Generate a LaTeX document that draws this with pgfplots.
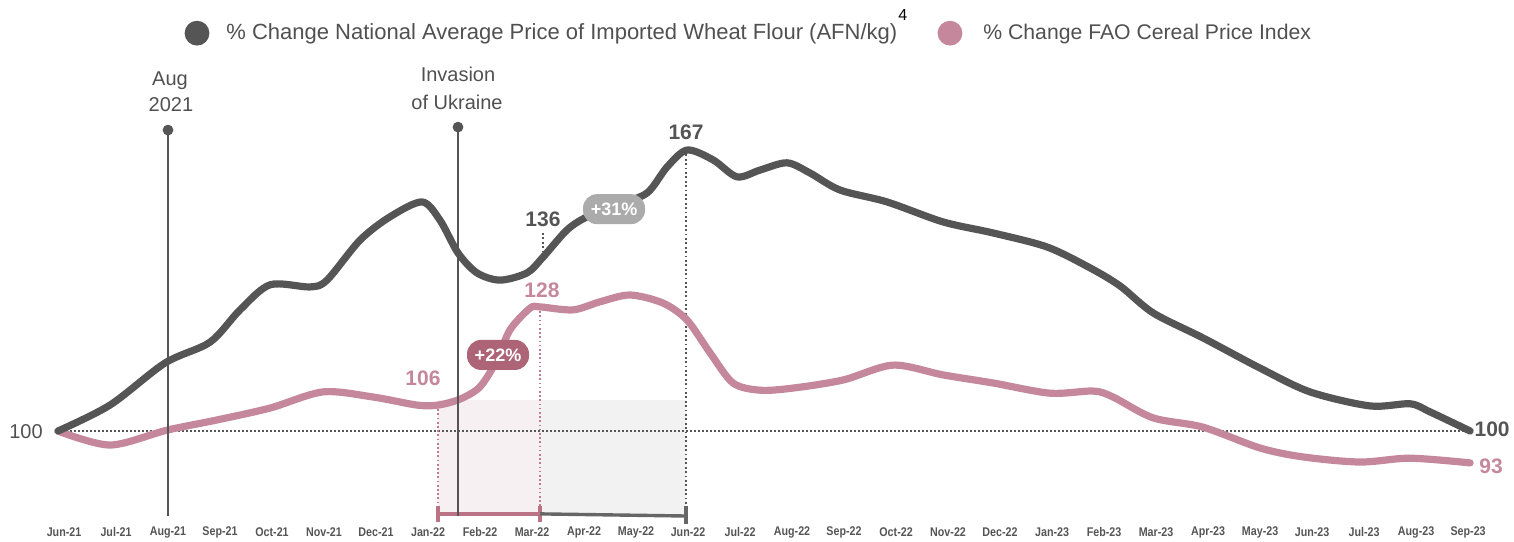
\documentclass[border=0pt]{standalone}
\usepackage{fontspec}
\setmainfont{Liberation Sans}
\newfontfamily\condfont[FakeStretch=0.85]{Liberation Sans}
\usepackage{pgfplots}
\pgfplotsset{compat=1.18}
\definecolor{darkg}{HTML}{555555}
\definecolor{txtg}{HTML}{505050}
\definecolor{pinkline}{HTML}{C5879C}
\definecolor{pinkbadge}{HTML}{AE6477}
\definecolor{graybadge}{HTML}{ABABAB}
\definecolor{pinkshade}{HTML}{F7F0F2}
\definecolor{grayshade}{HTML}{F2F2F2}
\definecolor{pinkdot}{HTML}{C27A8F}
\definecolor{pinkbracket}{HTML}{BB7285}
\definecolor{graybracket}{HTML}{666666}
\begin{document}
\begin{tikzpicture}
\useasboundingbox (0,0) rectangle (757pt,270.5pt);
\begin{axis}[
  at={(0,0)}, anchor=south west,
  width=757pt, height=270.5pt, scale only axis,
  xmin=-1.109, xmax=27.839, ymin=74.12, ymax=201.41,
  axis line style={draw=none},
  major tick length=0pt,
  ytick=\empty,
  xtick={0.115,1.109,2.103,3.098,4.092,5.086,6.081,7.075,8.069,9.064,10.058,11.052,12.046,13.041,14.035,15.029,16.024,17.018,18.012,19.007,20.001,20.995,21.990,22.984,23.978,24.973,25.967,26.961},
  xticklabels={Jun-21,Jul-21,Aug-21,Sep-21,Oct-21,Nov-21,Dec-21,Jan-22,Feb-22,Mar-22,Apr-22,May-22,Jun-22,Jul-22,Aug-22,Sep-22,Oct-22,Nov-22,Dec-22,Jan-23,Feb-23,Mar-23,Apr-23,May-23,Jun-23,Jul-23,Aug-23,Sep-23},
  xticklabel style={font=\fontsize{6.3}{6.3}\selectfont\condfont\bfseries, text=darkg, anchor=center, yshift=4.5pt},
  clip=false,
]
% shaded periods
\fill[pinkshade] (axis cs:7.266,80.5) rectangle (axis cs:9.216,107.3);
\fill[grayshade] (axis cs:9.216,80.5) rectangle (axis cs:12.008,107.3);
% baseline 100
\draw[darkg, line width=0.8pt, dash pattern=on 0.8pt off 1.2pt] (axis cs:0,100) -- (axis cs:27,100);
% dotted guides
\draw[pinkdot, line width=0.85pt, dash pattern=on 0.85pt off 1.25pt] (axis cs:7.266,106.1) -- (axis cs:7.266,80.5);
\draw[pinkdot, line width=0.85pt, dash pattern=on 0.85pt off 1.25pt] (axis cs:9.216,129.2) -- (axis cs:9.216,80.5);
\draw[darkg, line width=0.9pt, dash pattern=on 0.9pt off 1.3pt] (axis cs:12.008,166.1) -- (axis cs:12.008,80.5);
\draw[darkg, line width=0.9pt, dash pattern=on 0.9pt off 1.3pt] (axis cs:9.273,146.6) -- (axis cs:9.273,140.9);
% brackets
\draw[pinkbracket, line width=1.7pt] (axis cs:7.266,80.5) -- (axis cs:9.216,80.5);
\draw[pinkbracket, line width=1.7pt] (axis cs:7.266,82.4) -- (axis cs:7.266,78.6);
\draw[pinkbracket, line width=1.7pt] (axis cs:9.216,82.4) -- (axis cs:9.216,78.6);
\draw[graybracket, line width=1.7pt] (axis cs:9.216,80.5) -- (axis cs:12.008,80.0);
\draw[graybracket, line width=1.7pt] (axis cs:12.008,82.4) -- (axis cs:12.008,78.1);
% FAO cereal price index
\addplot[color=pinkline, line width=3.6pt, smooth, tension=0.5, line cap=round, line join=round] coordinates {
(0,100) (0.994,96.7) (2.084,100.2) (3.040,102.6) (4.054,105.4) (5.067,109.2) (6.023,108.0)
(6.864,106.1) (7.266,106.1) (7.686,107.5) (8.069,110.4) (8.394,116.7) (8.642,123.8)
(9.025,128.9) (9.216,129.2) (9.847,128.5) (10.363,130.4) (10.937,132.0) (11.568,130.1)
(12.027,126.1) (12.467,118.4) (12.906,111.3) (13.423,109.6) (14.054,110.1) (15.010,112.0)
(15.966,115.5) (16.922,113.2) (17.878,111.3) (18.967,108.9) (19.790,109.4) (20.172,108.0)
(20.937,103.1) (21.893,100.9) (22.983,96.0) (23.805,93.9) (24.895,92.7) (25.851,93.6) (27,92.5)
};
% wheat flour price
\addplot[color=darkg, line width=3.6pt, smooth, tension=0.5, line cap=round, line join=round] coordinates {
(0,100) (0.994,106.1) (2.046,116.0) (2.906,120.9) (3.480,128.5) (4.054,134.4) (4.818,133.9)
(5.143,135.5) (5.774,144.9) (6.348,150.4) (6.960,153.9) (7.304,149.6) (7.648,141.9)
(8.011,137.2) (8.451,135.5) (8.967,137.2) (9.273,140.9) (9.732,147.3) (10.115,150.4)
(10.688,153.2) (11.262,156.0) (11.644,162.1) (12.027,166.1) (12.524,163.8) (12.983,159.8)
(13.423,161.4) (13.939,163.1) (14.379,160.7) (14.952,156.7) (15.851,153.9) (16.922,149.2)
(17.878,146.6) (18.910,143.3) (19.730,138.4) (20.310,134.1) (20.937,127.8) (21.893,121.9)
(22.983,114.8) (23.939,109.2) (25.086,105.9) (25.851,106.4) (26.233,104.5) (27,100)
};
% event markers
\draw[darkg, line width=0.8pt] (axis cs:2.103,170.8) -- (axis cs:2.103,80.0);
\fill[darkg] (axis cs:2.103,170.8) circle (2.7pt);
\draw[darkg, line width=0.8pt] (axis cs:7.648,171.5) -- (axis cs:7.648,80.0);
\fill[darkg] (axis cs:7.648,171.5) circle (2.7pt);
\node[anchor=base, text=txtg, font=\fontsize{10}{10}\selectfont] at (axis cs:2.141,181.18) {Aug};
\node[anchor=base, text=txtg, font=\fontsize{10}{10}\selectfont] at (axis cs:2.16,175.06) {2021};
\node[anchor=base, text=txtg, font=\fontsize{10}{10}\selectfont] at (axis cs:7.648,182.12) {Invasion};
\node[anchor=base, text=txtg, font=\fontsize{10}{10}\selectfont] at (axis cs:7.63,175.53) {of Ukraine};
% value labels
\node[anchor=base, text=darkg, font=\fontsize{10.5}{10.5}\selectfont\bfseries] at (axis cs:12.008,168.7) {167};
\node[anchor=base, text=darkg, font=\fontsize{10.5}{10.5}\selectfont\bfseries] at (axis cs:9.273,148.0) {136};
\node[anchor=base, text=pinkline, font=\fontsize{10.5}{10.5}\selectfont\bfseries] at (axis cs:9.254,131.3) {128};
\node[anchor=base, text=pinkline, font=\fontsize{10.5}{10.5}\selectfont\bfseries] at (axis cs:6.979,110.8) {106};
\node[anchor=base, text=darkg, font=\fontsize{10.5}{10.5}\selectfont\bfseries] at (axis cs:27.42,98.6) {100};
\node[anchor=base, text=pinkline, font=\fontsize{10.5}{10.5}\selectfont\bfseries] at (axis cs:27.40,90.1) {93};
\node[anchor=base, text=txtg, font=\fontsize{10}{10}\selectfont] at (axis cs:-0.612,98.35) {100};
% badges
\node[fill=graybadge, rounded corners=7pt, minimum width=31pt, minimum height=15pt, inner sep=0pt, text=white, font=\fontsize{9}{9}\selectfont\bfseries] at (axis cs:10.631,152.2) {+31\%};
\node[fill=pinkbadge, rounded corners=7pt, minimum width=31pt, minimum height=15pt, inner sep=0pt, text=white, font=\fontsize{9}{9}\selectfont\bfseries] at (axis cs:8.413,117.9) {+22\%};
% legend
\fill[darkg] (axis cs:2.658,193.6) circle (6.2pt);
\node[anchor=base west, inner sep=0pt, text=txtg, font=\fontsize{11}{11}\selectfont] at (axis cs:3.212,192.0) {\% Change National Average Price of Imported Wheat Flour (AFN/kg)\kern0.6pt\raisebox{9.5pt}{\textcolor{black}{\fontsize{8}{8}\selectfont 4}}};
\fill[pinkline] (axis cs:17.055,193.6) circle (6.2pt);
\node[anchor=base west, inner sep=0pt, text=txtg, font=\fontsize{10.6}{10.6}\selectfont] at (axis cs:17.686,192.0) {\% Change FAO Cereal Price Index};
\end{axis}
\end{tikzpicture}
\end{document}
